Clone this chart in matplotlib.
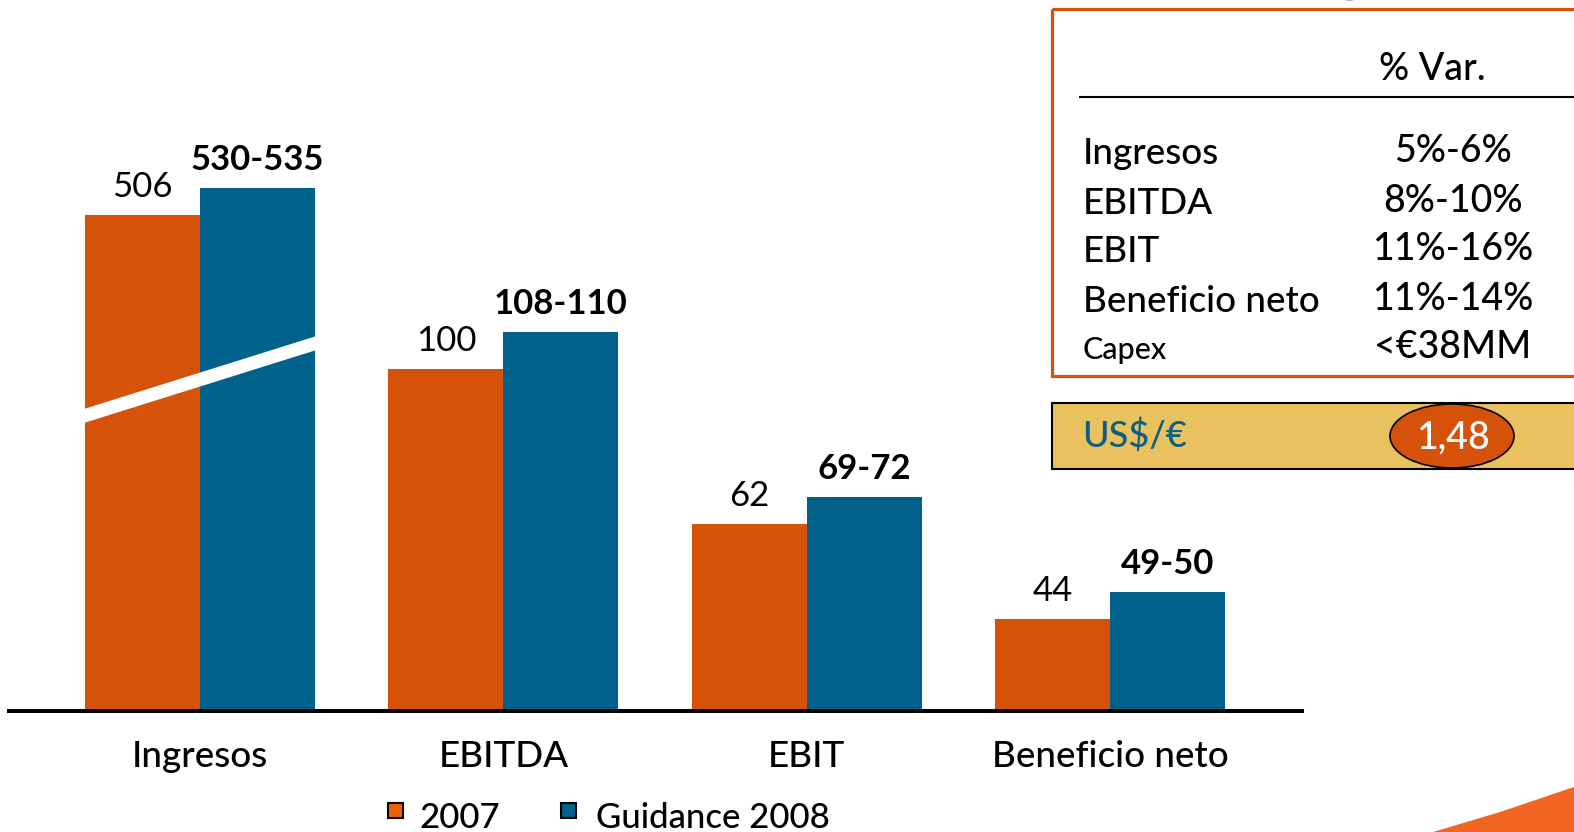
import matplotlib.pyplot as plt
from matplotlib.patches import Rectangle, Ellipse, Polygon
import numpy as np

plt.rcParams['font.family'] = ['Lato', 'DejaVu Sans']
plt.rcParams['font.weight'] = 'medium'

# chart data (bar heights are the drawn heights, axis is schematic / broken)
categories = ['Ingresos', 'EBITDA', 'EBIT', 'Beneficio neto']
h2007 = [496, 342, 187, 92]
h2008 = [523, 379, 214, 119]
lab2007 = ['506', '100', '62', '44']
lab2008 = ['530-535', '108-110', '69-72', '49-50']

# side table
tab_rows = ['Ingresos', 'EBITDA', 'EBIT', 'Beneficio neto', 'Capex']
tab_vals = ['5%-6%', '8%-10%', '11%-16%', '11%-14%', '<€38MM']
fx_label = 'US$/€'
fx_value = '1,48'

ORANGE = '#D6520A'
BLUE = '#00618A'

W, H = 1574, 832
fig = plt.figure(figsize=(W / 100, H / 100), dpi=100)

# main bar axes, baseline at pixel row 711
ax = fig.add_axes([9 / W, 1 - 711 / H, (1302 - 9) / W, 711 / H])
x = np.arange(len(categories))
bw = 0.379
ax.bar(x - bw / 2, np.array(h2007) + 5, bw, bottom=-5, color=ORANGE, zorder=2)
ax.bar(x + bw / 2, np.array(h2008) + 5, bw, bottom=-5, color=BLUE, zorder=2)
ax.set_xlim(-0.6295, 3.632)
ax.set_ylim(0, 711)
ax.axhline(0, color='black', lw=2.9, zorder=3, clip_on=False)

for i in range(len(categories)):
    ax.text(x[i] - bw / 2, h2007[i] + 12, lab2007[i], ha='center', va='bottom',
            fontsize=25, fontweight='normal')
    ax.text(x[i] + bw / 2, h2008[i] + 12, lab2008[i], ha='center', va='bottom',
            fontsize=25, fontweight='bold')

# axis break on the first group
ax.plot([x[0] - bw - 0.05, x[0] + bw + 0.05],
        [h2007[0] * 0.60 - 7, h2008[0] * 0.708 + 2],
        color='white', lw=9.6, solid_capstyle='butt', zorder=4)

ax.set_xticks(x, categories, fontsize=26.5)
ax.tick_params(axis='x', length=0, pad=21)
ax.set_yticks([])
for s in ax.spines.values():
    s.set_visible(False)

# overlay in pixel coordinates for the table, legend and decorations
ov = fig.add_axes([0, 0, 1, 1])
ov.set_xlim(0, W)
ov.set_ylim(H, 0)
ov.axis('off')

ov.add_patch(Rectangle((1052, 9), 600, 367, fc='none', ec=ORANGE, lw=2.3))
ov.text(1432, 70, '% Var.', ha='center', va='center', fontsize=27)
ov.plot([1080, 1600], [97, 97], color='black', lw=1.5)
row_y = [154, 203, 252, 302, 350]
for i in range(len(tab_rows)):
    fs = 22 if i == len(tab_rows) - 1 else 26.5
    ov.text(1083, row_y[i], tab_rows[i], ha='left', va='center', fontsize=fs)
    ov.text(1453, row_y[i] - 2, tab_vals[i], ha='center', va='center', fontsize=27)

ov.add_patch(Rectangle((1052, 403), 600, 66, fc='#E9C15E', ec='black', lw=1.5))
ov.text(1082, 436, fx_label, ha='left', va='center', fontsize=26, color='#0B5F80')
ov.add_patch(Ellipse((1452, 436), 124, 64, fc=ORANGE, ec='black', lw=1.2))
ov.text(1453, 438, fx_value, ha='center', va='center', fontsize=27, color='white')

# legend
ov.add_patch(Rectangle((388, 803), 15, 15, fc='#F06000', ec='black', lw=1.5))
ov.text(419, 818, '2007', ha='left', va='center', fontsize=25)
ov.add_patch(Rectangle((561, 803), 15, 15, fc=BLUE, ec='black', lw=1.5))
ov.text(596, 818, 'Guidance 2008', ha='left', va='center', fontsize=25)

# decorations: orange swoosh and clipped title glyph
ov.add_patch(Polygon([(1433, 832), (1500, 812), (1574, 787), (1574, 832)],
                     closed=True, fc='#F26522', ec='none'))
ov.text(1350, -8, 'g', ha='center', va='baseline', fontsize=36,
        color='#444444', fontweight='bold', clip_on=True)

fig.savefig('out.png', dpi=100)
